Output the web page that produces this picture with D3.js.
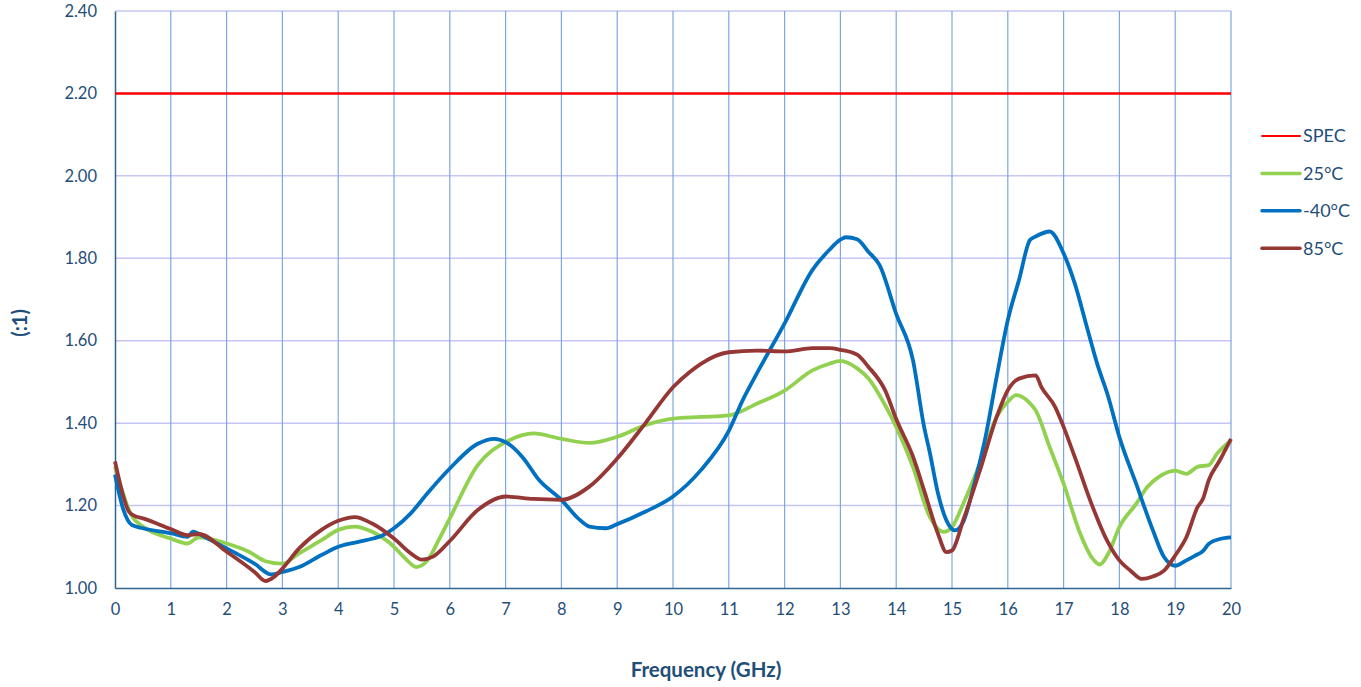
<!DOCTYPE html>
<html>
<head>
<meta charset="utf-8">
<script src="https://cdn.jsdelivr.net/npm/d3@7"></script>
<style>
  body { margin: 0; background: #fff; }
  svg text { font-family: Lato, "Open Sans", sans-serif; fill: #1f4e79; }
</style>
</head>
<body>
<svg id="chart"></svg>
<script>
// values, frequency in GHz
const specLimit = 2.20

const freq25 = [0, 0.3, 0.5, 1, 1.3, 1.5, 2, 2.4, 2.7, 3, 3.3, 3.7, 4, 4.3, 4.6, 5, 5.2, 5.4, 5.6, 5.8, 6, 6.5, 7, 7.3, 7.5, 8, 8.5, 9, 9.5, 10, 10.5, 11, 11.5, 12, 12.5, 12.8, 13, 13.3, 13.5, 13.8, 14, 14.3, 14.6, 14.85, 15, 15.2, 15.5, 15.8, 16, 16.15, 16.4, 16.5, 16.75, 17, 17.3, 17.5, 17.65, 17.8, 18, 18.3, 18.5, 18.7, 19, 19.2, 19.4, 19.6, 19.75, 20]
const vswr25 = [1.295, 1.175, 1.149, 1.120, 1.108, 1.123, 1.108, 1.088, 1.065, 1.059, 1.084, 1.116, 1.141, 1.149, 1.137, 1.100, 1.072, 1.051, 1.067, 1.116, 1.169, 1.298, 1.354, 1.371, 1.375, 1.362, 1.352, 1.367, 1.395, 1.411, 1.415, 1.419, 1.447, 1.479, 1.528, 1.544, 1.551, 1.533, 1.509, 1.444, 1.391, 1.294, 1.173, 1.136, 1.148, 1.204, 1.302, 1.415, 1.452, 1.468, 1.448, 1.431, 1.342, 1.253, 1.131, 1.075, 1.057, 1.083, 1.148, 1.204, 1.245, 1.269, 1.285, 1.277, 1.294, 1.298, 1.326, 1.358]

const freqM40 = [0, 0.15, 0.3, 0.5, 1, 1.3, 1.4, 1.6, 2, 2.5, 2.8, 3, 3.3, 3.7, 4, 4.5, 4.8, 5, 5.3, 5.6, 6, 6.5, 6.8, 7, 7.3, 7.6, 8, 8.3, 8.5, 8.8, 9, 9.5, 10, 10.5, 11, 11.25, 11.5, 12, 12.5, 12.8, 13, 13.1, 13.3, 13.5, 13.7, 14, 14.3, 14.5, 14.6, 14.75, 14.9, 15.05, 15.2, 15.4, 15.6, 15.8, 16, 16.2, 16.4, 16.5, 16.75, 17, 17.2, 17.4, 17.6, 17.8, 18, 18.3, 18.6, 18.8, 19, 19.2, 19.35, 19.5, 19.6, 19.8, 20]
const vswrM40 = [1.275, 1.19, 1.153, 1.145, 1.133, 1.124, 1.137, 1.124, 1.096, 1.059, 1.033, 1.039, 1.051, 1.080, 1.100, 1.116, 1.128, 1.145, 1.181, 1.230, 1.290, 1.350, 1.362, 1.354, 1.318, 1.262, 1.214, 1.169, 1.149, 1.145, 1.155, 1.185, 1.222, 1.286, 1.381, 1.456, 1.520, 1.642, 1.772, 1.820, 1.845, 1.851, 1.846, 1.816, 1.784, 1.665, 1.553, 1.391, 1.330, 1.229, 1.164, 1.140, 1.160, 1.253, 1.366, 1.512, 1.650, 1.747, 1.845, 1.853, 1.865, 1.812, 1.739, 1.642, 1.545, 1.464, 1.366, 1.253, 1.140, 1.075, 1.054, 1.067, 1.078, 1.090, 1.107, 1.119, 1.123]

const freq85 = [0, 0.25, 0.35, 0.5, 1, 1.3, 1.5, 2, 2.5, 2.7, 2.85, 3, 3.3, 3.7, 4, 4.3, 4.6, 5, 5.3, 5.5, 5.7, 6, 6.5, 7, 7.5, 8, 8.5, 9, 9.5, 10, 10.3, 10.5, 11, 11.5, 12, 12.5, 12.8, 13, 13.3, 13.5, 13.8, 14, 14.3, 14.5, 14.75, 14.9, 15, 15.2, 15.5, 15.8, 16, 16.2, 16.5, 16.6, 16.85, 17, 17.2, 17.5, 17.75, 18, 18.2, 18.4, 18.6, 18.8, 19, 19.2, 19.4, 19.5, 19.6, 19.8, 20]
const vswr85 = [1.307, 1.185, 1.175, 1.169, 1.143, 1.128, 1.131, 1.088, 1.039, 1.017, 1.027, 1.047, 1.096, 1.141, 1.163, 1.172, 1.157, 1.120, 1.084, 1.069, 1.076, 1.114, 1.189, 1.222, 1.216, 1.214, 1.246, 1.314, 1.399, 1.487, 1.524, 1.544, 1.572, 1.576, 1.574, 1.582, 1.582, 1.578, 1.566, 1.537, 1.480, 1.410, 1.319, 1.237, 1.131, 1.087, 1.091, 1.164, 1.285, 1.415, 1.480, 1.508, 1.516, 1.488, 1.439, 1.391, 1.318, 1.204, 1.123, 1.067, 1.042, 1.022, 1.028, 1.042, 1.079, 1.123, 1.196, 1.217, 1.261, 1.310, 1.362]

const xTicks = d3.range(0, 21, 1)
const yTicks = [1.00, 1.20, 1.40, 1.60, 1.80, 2.00, 2.20, 2.40]

const seriesNames = ['SPEC', '25°C', '-40°C', '85°C']
const seriesColors = ['#ff0000', '#92d050', '#0070c0', '#953735']

const config = {
    width: 1361,
    height: 687,
    margin: { top: 11, right: 130, bottom: 99, left: 115 }
}

const svg = d3.select('#chart')
    .attr('width', config.width)
    .attr('height', config.height)

const width = config.width - config.margin.left - config.margin.right
const height = config.height - config.margin.top - config.margin.bottom

const chart = svg.append('g')
    .attr('transform', `translate(${config.margin.left},${config.margin.top})`)

const xScale = d3.scaleLinear().domain([0, 20]).range([0, width])
const yScale = d3.scaleLinear().domain([1.0, 2.4]).range([height, 0])

// horizontal grid
chart.append('g')
    .selectAll('line')
    .data(yTicks.slice(1))
    .join('line')
    .attr('x1', 0)
    .attr('x2', width)
    .attr('y1', d => yScale(d))
    .attr('y2', d => yScale(d))
    .attr('stroke', '#c6c6f5')
    .attr('stroke-width', 1.5)

// vertical grid
chart.append('g')
    .selectAll('line')
    .data(xTicks.slice(1))
    .join('line')
    .attr('x1', d => xScale(d))
    .attr('x2', d => xScale(d))
    .attr('y1', 0)
    .attr('y2', height)
    .attr('stroke', '#7ea6e0')
    .attr('stroke-width', 1.2)

// axes
const xAxis = d3.axisBottom(xScale).tickValues(xTicks).tickSize(0).tickPadding(15)
const yAxis = d3.axisLeft(yScale).tickValues(yTicks).tickFormat(d3.format('.2f')).tickSize(0).tickPadding(18)

const xAxisG = chart.append('g')
    .attr('transform', `translate(0,${height})`)
    .call(xAxis)
const yAxisG = chart.append('g').call(yAxis)

for (const g of [xAxisG, yAxisG]) {
    g.select('.domain').attr('stroke', '#2f6390').attr('stroke-width', 1.5)
    g.selectAll('text').attr('font-size', 16.5).style('fill', '#1f4e79')
}

// spec line
chart.append('line')
    .attr('x1', 0)
    .attr('x2', width)
    .attr('y1', yScale(specLimit))
    .attr('y2', yScale(specLimit))
    .attr('stroke', seriesColors[0])
    .attr('stroke-width', 2.5)

const line = d3.line()
    .x(d => xScale(d[0]))
    .y(d => yScale(d[1]))
    .curve(d3.curveMonotoneX)

const seriesData = [
    d3.zip(freq25, vswr25),
    d3.zip(freqM40, vswrM40),
    d3.zip(freq85, vswr85)
]

chart.append('g')
    .selectAll('path')
    .data(seriesData)
    .join('path')
    .attr('d', line)
    .attr('fill', 'none')
    .attr('stroke', (d, i) => seriesColors[i + 1])
    .attr('stroke-width', 3.8)
    .attr('stroke-linejoin', 'round')

// axis titles
svg.append('text')
    .attr('x', 706)
    .attr('y', 677)
    .attr('text-anchor', 'middle')
    .attr('font-size', 20.5)
    .attr('font-weight', 'bold')
    .text('Frequency (GHz)')

svg.append('text')
    .attr('transform', 'translate(27,323) rotate(-90)')
    .attr('text-anchor', 'middle')
    .attr('font-size', 20)
    .attr('font-weight', 'bold')
    .text('(:1)')

// legend
const legend = svg.append('g')
    .selectAll('g')
    .data(seriesNames)
    .join('g')
    .attr('transform', (d, i) => `translate(1262,${136 + i * 37.4})`)

legend.append('line')
    .attr('x1', 0)
    .attr('x2', 38)
    .attr('stroke', (d, i) => seriesColors[i])
    .attr('stroke-width', (d, i) => i === 0 ? 2 : 3.5)
    .attr('stroke-linecap', 'round')

legend.append('text')
    .attr('x', 41)
    .attr('dy', '0.35em')
    .attr('font-size', 18)
    .text(d => d)
</script>
</body>
</html>
